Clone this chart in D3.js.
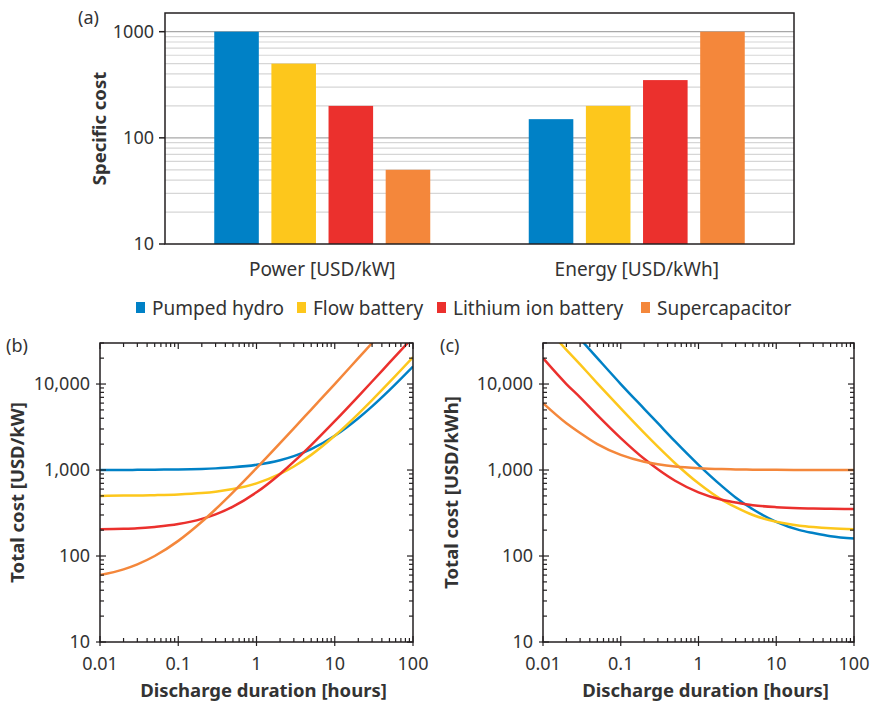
<!DOCTYPE html>
<html>
<head>
<meta charset="utf-8">
<script src="https://cdn.jsdelivr.net/npm/d3@7/dist/d3.min.js"></script>
<style>
    body { margin: 0; background: #fff; }
    svg { display: block; font-family: "Noto Sans", sans-serif; }
</style>
</head>
<body>
<svg id="chart" width="876" height="703"></svg>
<script>
(function storageCostChart() {
    'use strict';

    /* data */

    var technologies = ['Pumped hydro', 'Flow battery', 'Lithium ion battery', 'Supercapacitor'];
    var colors = ['#0081c6', '#fdc71c', '#eb302d', '#f4873b'];

    var costCategories = ['Power [USD/kW]', 'Energy [USD/kWh]'];
    var powerCost = [1000, 500, 200, 50];      // USD/kW
    var energyCost = [150, 200, 350, 1000];    // USD/kWh

    var barTickLabels = ['10', '100', '1000'];

    // discharge durations (hours) where the curves were read
    var durations = [0.01, 0.02, 0.03, 0.05, 0.1, 0.2, 0.3, 0.5, 1, 2, 3, 5, 10, 20, 30, 50, 100];

    // (b) total cost per kW
    var perKwPumped = [1000, 1000, 1005, 1010, 1015, 1030, 1045, 1075, 1150, 1300, 1450, 1750, 2500, 4000, 5500, 8500, 16000];
    var perKwFlow = [500, 505, 505, 510, 520, 540, 560, 600, 700, 900, 1100, 1500, 2500, 4500, 6500, 10500, 20500];
    var perKwLithium = [205, 207, 210, 218, 235, 270, 305, 375, 550, 900, 1250, 1950, 3700, 7200, 10700, 17700, 35000];
    var perKwSupercap = [60, 70, 80, 100, 150, 250, 350, 550, 1050, 2050, 3050, 5050, 10000, 20000, 30000, 50000, 100000];

    // (c) total cost per kWh
    var perKwhPumped = [100000, 50000, 33500, 20000, 10000, 5150, 3500, 2150, 1150, 650, 480, 350, 250, 200, 185, 170, 160];
    var perKwhFlow = [50000, 25000, 16900, 10200, 5200, 2700, 1870, 1200, 700, 450, 370, 300, 250, 225, 217, 210, 205];
    var perKwhLithium = [20000, 10000, 7000, 4350, 2350, 1350, 1020, 750, 550, 450, 420, 390, 370, 360, 357, 354, 352];
    var perKwhSupercap = [6000, 3500, 2700, 2000, 1500, 1250, 1170, 1100, 1050, 1025, 1017, 1010, 1005, 1000, 1000, 1000, 1000];

    var durationTicks = [0.01, 0.1, 1, 10, 100];
    var durationTickLabels = ['0.01', '0.1', '1', '10', '100'];
    var totalTicks = [10, 100, 1000, 10000];
    var totalTickLabels = ['10', '100', '1,000', '10,000'];

    var svg = d3.select('#chart');
    var textColor = '#333';
    var axisColor = '#231f20';
    var tickFont = 18;
    var labelFont = 19;

    /* panel (a) -- bars */

    var a = { left: 165, right: 794, top: 13, bottom: 244 };

    var xGroup = d3.scalePoint()
        .domain(costCategories)
        .range([a.left, a.right])
        .padding(0.5)
    ;
    var xBar = d3.scaleBand()
        .domain(technologies)
        .range([-108, 108])
        .paddingInner(0.22)
    ;
    var yBar = d3.scaleLog()
        .domain([10, 1500])
        .range([a.bottom, a.top])
    ;

    var panelA = svg.append('g');

    // --- grid
    panelA.selectAll('line.grid')
        .data(yBar.ticks().filter(function (v) { return v > 10 && v <= 1000; }))
        .enter()
        .append('line')
        .attr('x1', a.left).attr('x2', a.right)
        .attr('y1', function (v) { return yBar(v); })
        .attr('y2', function (v) { return yBar(v); })
        .attr('stroke', function (v) { return isDecade(v) ? '#a8a8a8' : '#d6d6d6'; })
        .attr('stroke-width', 1.2)
    ;

    // --- bars
    var barData = [];
    costCategories.forEach(function (cat, ci) {
        var values = ci === 0 ? powerCost : energyCost;
        technologies.forEach(function (tech, ti) {
            barData.push({ cat: cat, tech: tech, value: values[ti], color: colors[ti] });
        });
    });

    panelA.selectAll('rect.bar')
        .data(barData)
        .enter()
        .append('rect')
        .attr('x', function (d) { return xGroup(d.cat) + xBar(d.tech); })
        .attr('width', xBar.bandwidth())
        .attr('y', function (d) { return yBar(d.value); })
        .attr('height', function (d) { return yBar(10) - yBar(d.value); })
        .attr('fill', function (d) { return d.color; })
    ;

    // --- frame
    panelA.append('rect')
        .attr('x', a.left).attr('y', a.top)
        .attr('width', a.right - a.left).attr('height', a.bottom - a.top)
        .attr('fill', 'none').attr('stroke', axisColor).attr('stroke-width', 1.5)
    ;

    // --- y ticks
    var barTicks = panelA.selectAll('g.ytick')
        .data(barTickLabels)
        .enter()
        .append('g')
        .attr('transform', function (t) { return 'translate(0,' + yBar(+t) + ')'; })
    ;
    barTicks.append('line')
        .attr('x1', a.left - 6).attr('x2', a.left)
        .attr('stroke', axisColor).attr('stroke-width', 1.5)
    ;
    barTicks.append('text')
        .attr('x', a.left - 11).attr('dy', '0.35em')
        .attr('text-anchor', 'end')
        .attr('font-size', tickFont).attr('fill', textColor)
        .text(function (t) { return t; })
    ;

    // --- category labels
    panelA.selectAll('text.cat')
        .data(costCategories)
        .enter()
        .append('text')
        .attr('x', function (c) { return xGroup(c); })
        .attr('y', 276)
        .attr('text-anchor', 'middle')
        .attr('font-size', labelFont).attr('fill', textColor)
        .text(function (c) { return c; })
    ;

    panelA.append('text')
        .attr('transform', 'translate(106,' + ((a.top + a.bottom) / 2) + ') rotate(-90)')
        .attr('text-anchor', 'middle')
        .attr('font-size', 18.5).attr('font-weight', 'bold').attr('fill', textColor)
        .text('Specific cost')
    ;
    panelLabel(78, 24, '(a)');

    /* legend */

    var legendX = [136, 297, 437, 641];
    var legend = svg.selectAll('g.legend')
        .data(technologies)
        .enter()
        .append('g')
        .attr('transform', function (d, i) { return 'translate(' + legendX[i] + ',308)'; })
    ;
    legend.append('rect')
        .attr('x', 0).attr('y', -6).attr('width', 9).attr('height', 11)
        .attr('fill', function (d, i) { return colors[i]; })
    ;
    legend.append('text')
        .attr('x', 16).attr('dy', '0.35em')
        .attr('font-size', labelFont).attr('fill', textColor)
        .text(function (d) { return d; })
    ;

    /* panels (b) and (c) -- lines */

    linePanel({ left: 100, right: 413, top: 343, bottom: 642 },
        [perKwPumped, perKwFlow, perKwLithium, perKwSupercap],
        'Total cost [USD/kW]', 18, 'b', '(b)', 6);

    linePanel({ left: 543, right: 854, top: 343, bottom: 642 },
        [perKwhPumped, perKwhFlow, perKwhLithium, perKwhSupercap],
        'Total cost [USD/kWh]', 452, 'c', '(c)', 440);

    /* helpers */

    function linePanel(box, series, yTitle, yTitleX, id, label, labelX) {
        var x = d3.scaleLog().domain([0.01, 100]).range([box.left, box.right]);
        var y = d3.scaleLog().domain([10, 30000]).range([box.bottom, box.top]);
        var g = svg.append('g');

        svg.append('clipPath')
            .attr('id', 'clip-' + id)
            .append('rect')
            .attr('x', box.left).attr('y', box.top)
            .attr('width', box.right - box.left).attr('height', box.bottom - box.top)
        ;

        var line = d3.line()
            .x(function (d) { return x(d[0]); })
            .y(function (d) { return y(d[1]); })
            .curve(d3.curveMonotoneX)
        ;

        g.append('g')
            .attr('clip-path', 'url(#clip-' + id + ')')
            .selectAll('path')
            .data(series)
            .enter()
            .append('path')
            .attr('d', function (values) {
                return line(durations.map(function (h, i) { return [h, values[i]]; }));
            })
            .attr('fill', 'none')
            .attr('stroke', function (d, i) { return colors[i]; })
            .attr('stroke-width', 2.5)
        ;

        // --- frame
        g.append('rect')
            .attr('x', box.left).attr('y', box.top)
            .attr('width', box.right - box.left).attr('height', box.bottom - box.top)
            .attr('fill', 'none').attr('stroke', axisColor).attr('stroke-width', 1.5)
        ;

        // --- ticks on all four sides (major cross the frame, minor point inside)
        var ticks = g.append('g').attr('stroke', axisColor).attr('stroke-width', 1.2);

        x.ticks().forEach(function (v) {
            var px = x(v), major = isDecade(v);
            var out = major ? 4 : 0, inn = major ? 6 : 4;
            ticks.append('line').attr('x1', px).attr('x2', px)
                .attr('y1', box.bottom + out).attr('y2', box.bottom - inn);
            ticks.append('line').attr('x1', px).attr('x2', px)
                .attr('y1', box.top).attr('y2', box.top + inn);
        });
        y.ticks().forEach(function (v) {
            var py = y(v), major = isDecade(v);
            var out = major ? 4 : 0, inn = major ? 6 : 4;
            ticks.append('line').attr('y1', py).attr('y2', py)
                .attr('x1', box.left - out).attr('x2', box.left + inn);
            ticks.append('line').attr('y1', py).attr('y2', py)
                .attr('x1', box.right).attr('x2', box.right - inn);
        });

        // --- tick labels
        g.selectAll('text.xl')
            .data(durationTicks)
            .enter()
            .append('text')
            .attr('x', function (v) { return x(v); })
            .attr('y', 670)
            .attr('text-anchor', 'middle')
            .attr('font-size', tickFont).attr('fill', textColor)
            .text(function (v, i) { return durationTickLabels[i]; })
        ;
        g.selectAll('text.yl')
            .data(totalTicks)
            .enter()
            .append('text')
            .attr('x', box.left - 10)
            .attr('y', function (v) { return y(v); })
            .attr('dy', '0.35em')
            .attr('text-anchor', 'end')
            .attr('font-size', tickFont).attr('fill', textColor)
            .text(function (v, i) { return totalTickLabels[i]; })
        ;

        // --- titles
        g.append('text')
            .attr('x', (box.left + box.right) / 2 + 7).attr('y', 697)
            .attr('text-anchor', 'middle')
            .attr('font-size', 18.5).attr('font-weight', 'bold').attr('fill', textColor)
            .text('Discharge duration [hours]')
        ;
        g.append('text')
            .attr('transform', 'translate(' + yTitleX + ',' + ((box.top + box.bottom) / 2) + ') rotate(-90)')
            .attr('text-anchor', 'middle')
            .attr('dy', '0.35em')
            .attr('font-size', 18.5).attr('font-weight', 'bold').attr('fill', textColor)
            .text(yTitle)
        ;
        panelLabel(labelX, 352, label);
    }

    function panelLabel(x, y, text) {
        svg.append('text')
            .attr('x', x).attr('y', y)
            .attr('font-size', tickFont).attr('fill', textColor)
            .text(text)
        ;
    }

    function isDecade(v) {
        var l = Math.log10(v);
        return Math.abs(l - Math.round(l)) < 1e-9;
    }
})();
</script>
</body>
</html>
